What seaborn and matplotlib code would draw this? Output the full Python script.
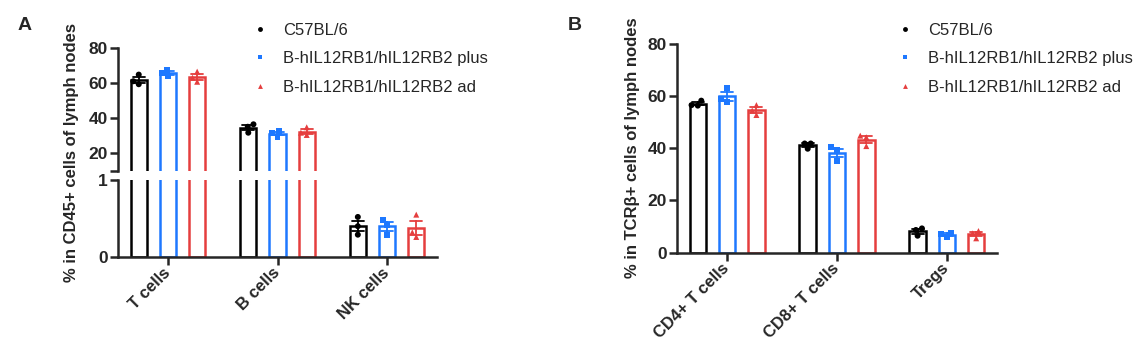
import numpy as np
import pandas as pd
import matplotlib
matplotlib.use("Agg")
import matplotlib.pyplot as plt
import seaborn as sns
from matplotlib.lines import Line2D

# ---------------- data ----------------
groups = ["C57BL/6", "B-hIL12RB1/hIL12RB2 plus", "B-hIL12RB1/hIL12RB2 ad"]
colors = ["#000000", "#1E78FF", "#E53E3E"]
markers = ["o", "s", "^"]

cats_a = ["T cells", "B cells", "NK cells"]
a_c57 = [[61.0, 64.8, 59.3], [35.0, 36.4, 31.6], [0.52, 0.40, 0.29]]
a_plus = [[67.4, 65.5, 64.0], [32.6, 31.2, 29.3], [0.48, 0.42, 0.29]]
a_ad = [[63.0, 66.5, 60.7], [31.6, 34.7, 30.3], [0.55, 0.32, 0.26]]

cats_b = ["CD4+ T cells", "CD8+ T cells", "Tregs"]
b_c57 = [[58.2, 56.5, 56.3], [41.8, 41.8, 39.8], [9.3, 8.7, 6.5]]
b_plus = [[62.9, 58.7, 57.8], [40.3, 39.3, 35.2], [7.7, 7.0, 6.1]]
b_ad = [[56.5, 54.4, 52.7], [44.8, 44.2, 40.8], [8.3, 7.4, 5.5]]

ylabel_a = "% in CD45+ cells of lymph nodes"
ylabel_b = "% in TCRβ+ cells of lymph nodes"


def to_long(cats, series):
    rows = []
    for g, vals in zip(groups, series):
        for c, reps in zip(cats, vals):
            for v in reps:
                rows.append({"cat": c, "group": g, "val": v})
    return pd.DataFrame(rows)


df_a = to_long(cats_a, [a_c57, a_plus, a_ad])
df_b = to_long(cats_b, [b_c57, b_plus, b_ad])

# ---------------- style ----------------
sns.set_theme(style="ticks")
plt.rcParams["font.family"] = ["Liberation Sans", "DejaVu Sans"]
plt.rcParams["axes.linewidth"] = 1.8

pal = dict(zip(groups, colors))
LW = 1.8
YTICK_FS = 12.5
XTICK_FS = 12


def draw(ax, df, cats):
    sns.barplot(data=df, x="cat", y="val", hue="group", order=cats,
                hue_order=groups, palette=pal, errorbar=None, width=0.8,
                gap=0.44, fill=False, linewidth=LW, legend=False, ax=ax)
    sns.pointplot(data=df, x="cat", y="val", hue="group", order=cats,
                  hue_order=groups, palette=pal, errorbar="se", capsize=0.11,
                  dodge=0.534, linestyle="none", marker="none",
                  err_kws={"linewidth": 1.3}, legend=False, ax=ax)
    for g, m in zip(groups, markers):
        sns.swarmplot(data=df[df.group == g], x="cat", y="val", hue="group",
                      order=cats, hue_order=groups, palette=pal, dodge=True,
                      marker=m, size=4.3, linewidth=0, legend=False, ax=ax)
    ax.set_xlim(-0.456, 2.456)
    ax.set_xlabel("")
    ax.set_ylabel("")
    for s in ["top", "right"]:
        ax.spines[s].set_visible(False)
    ax.tick_params(width=LW, length=6)
    ax.tick_params(axis="y", pad=1.5)


W, H = 1141, 357
fig = plt.figure(figsize=(W / 100, H / 100), dpi=100)


def rect(x0, x1, ytop, ybot):
    return [x0 / W, 1 - ybot / H, (x1 - x0) / W, (ybot - ytop) / H]


# Panel A: broken axis
ax_top = fig.add_axes(rect(118, 437, 48, 170.5))
ax_bot = fig.add_axes(rect(118, 437, 180, 257))
draw(ax_top, df_a, cats_a)
draw(ax_bot, df_a, cats_a)
ax_top.set_ylim(10, 80)
ax_top.set_yticks([10, 20, 40, 60, 80])
ax_top.set_yticklabels(["", "20", "40", "60", "80"], fontweight="bold",
                       fontsize=YTICK_FS)
ax_top.spines["bottom"].set_visible(False)
ax_top.tick_params(axis="x", bottom=False, labelbottom=False)
ax_bot.set_ylim(0, 1)
ax_bot.set_yticks([0, 1])
ax_bot.set_yticklabels(["0", "1"], fontweight="bold", fontsize=YTICK_FS)

# Panel B
ax_b = fig.add_axes(rect(677, 997, 43.7, 252.7))
draw(ax_b, df_b, cats_b)
ax_b.set_ylim(0, 80)
ax_b.set_yticks([0, 20, 40, 60, 80])
ax_b.set_yticklabels(["0", "20", "40", "60", "80"], fontweight="bold",
                     fontsize=YTICK_FS)

for ax, cats in [(ax_bot, cats_a), (ax_b, cats_b)]:
    ax.set_xticks(range(len(cats)))
    ax.set_xticklabels(cats, rotation=45, ha="right", va="center",
                       rotation_mode="anchor", fontweight="bold",
                       fontsize=XTICK_FS)

# y labels and panel letters
fig.text(72 / W, 1 - 152.5 / H, ylabel_a, rotation=90, ha="center",
         va="center", fontsize=12, fontweight="bold")
fig.text(632 / W, 1 - 148 / H, ylabel_b, rotation=90, ha="center",
         va="center", fontsize=12, fontweight="bold")
fig.text(25 / W, 1 - 26 / H, "A", ha="center", va="center", fontsize=14,
         fontweight="bold")
fig.text(575 / W, 1 - 26 / H, "B", ha="center", va="center", fontsize=14,
         fontweight="bold")

# legends
handles = [Line2D([], [], linestyle="none", marker=m, color=c, markersize=3.5,
                  markeredgewidth=0) for m, c in zip(markers, colors)]
for mx in (260, 905):
    fig.legend(handles, groups, loc="upper left",
               bbox_to_anchor=((mx - 8.4) / W, 1 - 23 / H), frameon=False,
               fontsize=12, handlelength=1.0, handletextpad=0.9,
               labelspacing=0.8, borderpad=0, borderaxespad=0)

fig.savefig("out.png", dpi=100)
